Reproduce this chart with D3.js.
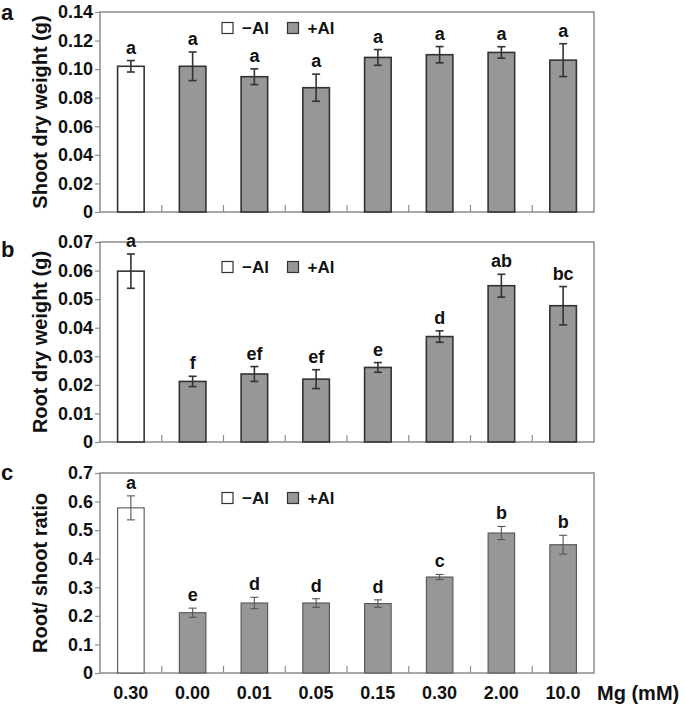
<!DOCTYPE html>
<html lang="en">
  <head>
    <title>Mg and Al dry weight</title>
    <script type="text/javascript" src="https://d3js.org/d3.v7.min.js"></script>
    <style>
      body { margin: 0; background: #fff; }
      text { font-family: "Liberation Sans", Arial, sans-serif; font-weight: bold; fill: #111; }
    </style>
  </head>

  <body>
    <div id="my_dataviz"></div>

    <script>
      // categories (Mg concentration, mM) and Al treatment of each bar
      const mgLabels = ["0.30", "0.00", "0.01", "0.05", "0.15", "0.30", "2.00", "10.0"];
      const alGroup = ["-Al", "+Al", "+Al", "+Al", "+Al", "+Al", "+Al", "+Al"];

      // panel a: shoot dry weight (g)
      const shootMean = [0.102, 0.102, 0.0947, 0.087, 0.1082, 0.1101, 0.1117, 0.1063];
      const shootErr = [0.004, 0.010, 0.0055, 0.0095, 0.0055, 0.0057, 0.004, 0.0115];
      const shootLetters = ["a", "a", "a", "a", "a", "a", "a", "a"];

      // panel b: root dry weight (g)
      const rootMean = [0.0598, 0.0212, 0.0238, 0.0220, 0.0261, 0.0369, 0.0547, 0.0477];
      const rootErr = [0.006, 0.0018, 0.0026, 0.0033, 0.0017, 0.002, 0.004, 0.0067];
      const rootLetters = ["a", "f", "ef", "ef", "e", "d", "ab", "bc"];

      // panel c: root / shoot ratio
      const ratioMean = [0.578, 0.211, 0.245, 0.245, 0.243, 0.336, 0.490, 0.449];
      const ratioErr = [0.042, 0.016, 0.02, 0.015, 0.013, 0.009, 0.023, 0.033];
      const ratioLetters = ["a", "e", "d", "d", "d", "c", "b", "b"];

      const legendKeys = ["\u2212Al", "+Al"];

      let width = 685, height = 709;
      let plotLeft = 100, plotRight = 594, plotH = 200;

      let svg = d3.select("#my_dataviz")
        .append("svg")
          .attr("width", width)
          .attr("height", height);

      // one band per bar (index, because 0.30 appears twice)
      let x = d3.scaleBand()
        .domain(d3.range(mgLabels.length))
        .range([plotLeft, plotRight])
        .padding(0);
      let barW = x.bandwidth() * 0.43;

      const panels = [
        {letter: "a", top: 12, max: 0.14, step: 0.02, fmt: ".2f", title: "Shoot dry weight (g)",
         mean: shootMean, err: shootErr, sig: shootLetters, legendY: 28, letterY: 20, sw: 1.6, sc: "#333"},
        {letter: "b", top: 242, max: 0.07, step: 0.01, fmt: ".2f", title: "Root dry weight (g)",
         mean: rootMean, err: rootErr, sig: rootLetters, legendY: 267, letterY: 257, sw: 1.6, sc: "#333"},
        {letter: "c", top: 473, max: 0.7, step: 0.1, fmt: ".1f", title: "Root/ shoot ratio",
         mean: ratioMean, err: ratioErr, sig: ratioLetters, legendY: 498, letterY: 480, sw: 1.1, sc: "#555"}
      ];

      panels.forEach(function(p) {
        let g = svg.append("g");
        let bottom = p.top + plotH;

        let y = d3.scaleLinear()
          .domain([0, p.max])
          .range([bottom, p.top]);

        // frame
        g.append("rect")
          .attr("x", plotLeft)
          .attr("y", p.top)
          .attr("width", plotRight - plotLeft)
          .attr("height", plotH)
          .attr("fill", "none")
          .attr("stroke", "#8c8c8c")
          .attr("stroke-width", 1.5);

        // y axis
        let yAxis = g.append("g")
          .attr("transform", "translate(" + plotLeft + ",0)")
          .call(d3.axisLeft(y)
            .tickValues(d3.range(0, p.max + p.step / 2, p.step))
            .tickSize(5)
            .tickPadding(2)
            .tickFormat(function(d) { return d === 0 ? "0" : d3.format(p.fmt)(d); }));
        yAxis.select(".domain").remove();
        yAxis.selectAll("line").attr("stroke", "#8c8c8c").attr("stroke-width", 1.2);
        yAxis.selectAll("text")
          .attr("font-size", 18)
          .attr("font-family", "Liberation Sans, Arial, sans-serif")
          .attr("font-weight", "bold")
          .attr("fill", "#111");

        // x ticks between categories, pointing up
        g.selectAll(".xtick")
          .data(d3.range(1, mgLabels.length))
          .enter().append("line")
            .attr("x1", function(d) { return x(d); })
            .attr("x2", function(d) { return x(d); })
            .attr("y1", bottom)
            .attr("y2", bottom - 7)
            .attr("stroke", "#8c8c8c")
            .attr("stroke-width", 1.2);

        // bars
        g.selectAll(".bar")
          .data(p.mean)
          .enter().append("rect")
            .attr("x", function(d, i) { return x(i) + (x.bandwidth() - barW) / 2; })
            .attr("y", function(d) { return y(d); })
            .attr("width", barW)
            .attr("height", function(d) { return bottom - y(d); })
            .attr("fill", function(d, i) { return alGroup[i] === "-Al" ? "#fff" : "#979797"; })
            .attr("stroke", p.sc)
            .attr("stroke-width", p.sw);

        // error bars
        let eb = g.selectAll(".err")
          .data(p.mean)
          .enter().append("g")
            .attr("transform", function(d, i) { return "translate(" + (x(i) + x.bandwidth() / 2) + ",0)"; });
        eb.append("line")
          .attr("y1", function(d, i) { return y(d - p.err[i]); })
          .attr("y2", function(d, i) { return y(d + p.err[i]); })
          .attr("stroke", p.sc).attr("stroke-width", p.sw);
        eb.append("line")
          .attr("x1", -4).attr("x2", 4)
          .attr("y1", function(d, i) { return y(d + p.err[i]); })
          .attr("y2", function(d, i) { return y(d + p.err[i]); })
          .attr("stroke", p.sc).attr("stroke-width", p.sw);
        eb.append("line")
          .attr("x1", -4).attr("x2", 4)
          .attr("y1", function(d, i) { return y(d - p.err[i]); })
          .attr("y2", function(d, i) { return y(d - p.err[i]); })
          .attr("stroke", p.sc).attr("stroke-width", p.sw);

        // significance letters
        eb.append("text")
          .attr("text-anchor", "middle")
          .attr("y", function(d, i) { return y(d + p.err[i]) - 7; })
          .attr("font-size", 18)
          .text(function(d, i) { return p.sig[i]; });

        // legend
        let lg = g.selectAll(".legend")
          .data(legendKeys)
          .enter().append("g")
            .attr("transform", function(d, i) { return "translate(" + (222 + i * 65.5) + "," + p.legendY + ")"; });
        lg.append("rect")
          .attr("x", 0).attr("y", -5.5)
          .attr("width", 11).attr("height", 11)
          .attr("fill", function(d, i) { return i === 0 ? "#fff" : "#979797"; })
          .attr("stroke", "#333")
          .attr("stroke-width", 1.2);
        lg.append("text")
          .attr("x", 20)
          .attr("y", 6)
          .attr("font-size", 17)
          .text(function(d) { return d; });

        // y title
        g.append("text")
          .attr("transform", "translate(47," + (p.top + plotH / 2) + ") rotate(-90)")
          .attr("text-anchor", "middle")
          .attr("font-size", 20)
          .text(p.title);

        // panel letter
        g.append("text")
          .attr("x", 1)
          .attr("y", p.letterY)
          .attr("font-size", 22)
          .text(p.letter);
      });

      // x tick labels under the last panel
      svg.selectAll(".xlabel")
        .data(mgLabels)
        .enter().append("text")
          .attr("x", function(d, i) { return x(i) + x.bandwidth() / 2; })
          .attr("y", 699)
          .attr("text-anchor", "middle")
          .attr("font-size", 18)
          .text(function(d) { return d; });

      svg.append("text")
        .attr("x", 597)
        .attr("y", 700)
        .attr("font-size", 20)
        .text("Mg (mM)");
    </script>

  </body>
</html>
